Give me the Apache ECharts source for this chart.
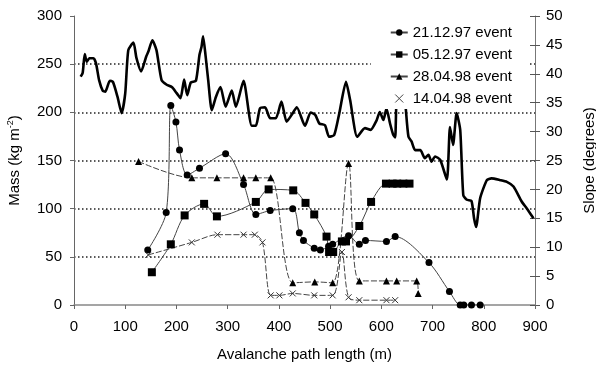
<!DOCTYPE html>
<html>
<head>
<meta charset="utf-8">
<script src="https://cdn.jsdelivr.net/npm/echarts@6/dist/echarts.min.js"></script>
<style>
  html, body { margin: 0; padding: 0; background: #fff; }
  #chart { width: 596px; height: 369px; }
</style>
</head>
<body>
<div id="chart"></div>
<script>
  // 数据：路径长度 (m) 与 质量 (kg m-2) / 坡度 (degrees)
  var event211297 = [[144,57],[180,96],[189,207],[199,190],[206,161],[221,135],[245,142],[296,157],[331,125],[355,94],[383,98],[427,100],[440,75],[448,67],[469,59],[481,57],[497,61],[505,63],[536,72],[557,63],[569,67],[610,66],[627,71],[693,44],[733,14],[754,0],[761,0],[776,0],[793,0]]
  var event051297 = [[152,34],[189,63],[216,93],[254,105],[279,92],[355,107],[380,120],[428,119],[452,106],[469,94],[493,71],[498,55],[506,55],[523,66],[531,66],[557,82],[580,107],[609,126],[622,126],[631,126],[643,126],[655,126]]
  var event280498 = [[126,149],[230,132],[279,132],[331,132],[355,132],[384,132],[427,23],[470,24],[505,23],[536,147],[557,25],[610,25],[630,25],[669,25],[672,12]]
  var event140498 = [[145,52],[230,65],[280,73],[331,73],[353,73],[368,65],[384,10],[401,10],[427,12],[469,10],[505,10],[523,55],[536,8],[557,5],[610,5],[627,5]]
  var slope = [[13,39.5],[17,40.2],[21,43.4],[25,42.1],[30,42.7],[38,42.7],[43,41.8],[49,38.9],[56,37.1],[61,36.9],[70,38.8],[76,38.6],[85,36],[93,33.2],[100,36.6],[106,44.1],[116,45.4],[122,42.7],[131,40.4],[141,43],[145,43.8],[153,45.8],[161,44.1],[171,38.9],[181,38.1],[191,37.7],[200,36.7],[208,35.8],[215,39],[221,36.3],[228,38.5],[238,38.8],[245,43.3],[249,44.7],[252,46.5],[257,43],[262,38.9],[269,33.7],[277,36],[286,37.7],[296,34.3],[308,37.1],[316,34.3],[331,38.8],[347,31],[355,31],[363,34],[373,34.2],[383,32.3],[394,32.3],[405,35.2],[415,31.7],[425,32.9],[435,34.2],[451,31],[462,33.3],[471,32.9],[479,31.4],[490,31.1],[498,29.1],[508,29.4],[518,33.2],[531,38.6],[539,35.5],[553,29.1],[568,30.6],[579,30.3],[591,32],[597,33.4],[604,32],[610,34],[617,31.4],[623,29.5],[627,29],[629,34],[634,40],[643,40],[648,33.7],[653,29.1],[659,28.3],[666,26.8],[676,26.8],[685,25.4],[692,26],[698,24.8],[705,25.7],[715,25.1],[728,21.7],[734,30.8],[740,27.7],[747,33.2],[754,30.3],[760,19],[767,18.2],[776,18],[781,15],[785,13.5],[793,18.5],[806,21.6],[815,21.9],[832,21.6],[845,21.3],[858,20.5],[874,17.9],[884,16.7],[897,15]]
  var seriesNames = ['21.12.97 event', '05.12.97 event', '28.04.98 event', '14.04.98 event']

  var font = 'Liberation Sans, Arial, sans-serif'
  var fs = 15
  var crossPath = 'path://M0,0L10,10M10,0L0,10'

  var chart = echarts.init(document.getElementById('chart'), null, {renderer: 'canvas'})
  chart.setOption({
    animation: false,
    textStyle: { fontFamily: font },
    grid: { left: 74, right: 61, top: 16, bottom: 64, containLabel: false, outerBoundsMode: 'none' },
    legend: {
      right: 66,
      top: 21,
      orient: 'vertical',
      align: 'left',
      backgroundColor: '#fff',
      padding: [4, 18, 3, 19],
      itemGap: 7,
      itemWidth: 17,
      itemHeight: 8,
      textStyle: { fontSize: fs, color: '#000', fontFamily: font },
      data: [
        { name: seriesNames[0], lineStyle: { type: 'solid' } },
        { name: seriesNames[1], lineStyle: { type: 'solid' } },
        { name: seriesNames[2], lineStyle: { type: 'solid' } },
        { name: seriesNames[3], icon: crossPath, itemStyle: { color: 'none', borderColor: '#444', borderWidth: 1 } }
      ]
    },
    xAxis: {
      type: 'value',
      min: 0, max: 900, interval: 100,
      name: 'Avalanche path length (m)',
      nameLocation: 'middle',
      nameGap: 42,
      nameTextStyle: { fontSize: fs, color: '#000' },
      axisLine: { lineStyle: { color: '#888', width: 1.5 } },
      axisTick: { show: true, length: 4, lineStyle: { color: '#666' } },
      axisLabel: { fontSize: fs, color: '#000', margin: 14 },
      splitLine: { show: false }
    },
    yAxis: [
      {
        type: 'value',
        min: 0, max: 300, interval: 50,
        position: 'left',
        name: 'Mass (kg m{sup|-2})',
        nameLocation: 'middle',
        nameGap: 50,
        nameTextStyle: {
          fontSize: fs, color: '#000',
          rich: { sup: { fontSize: 9, color: '#000', verticalAlign: 'top', lineHeight: 18 } }
        },
        axisLine: { show: true, lineStyle: { color: '#666' } },
        axisTick: { show: true, length: 4, lineStyle: { color: '#666' } },
        axisLabel: { fontSize: fs, color: '#000', margin: 12 },
        splitLine: {
          show: true,
          lineStyle: { type: [1.5, 2.5], width: 1.5, color: ['rgba(0,0,0,0)', '#222', '#222', '#222', '#222', '#222', 'rgba(0,0,0,0)'] }
        }
      },
      {
        type: 'value',
        min: 0, max: 50, interval: 5,
        position: 'right',
        name: 'Slope (degrees)',
        nameLocation: 'middle',
        nameGap: 47,
        nameTextStyle: { fontSize: fs, color: '#000' },
        axisLine: { show: true, lineStyle: { color: '#777' } },
        axisTick: { show: true, length: 5, lineStyle: { color: '#555' } },
        axisLabel: { fontSize: fs, color: '#000', margin: 11 },
        splitLine: { show: false }
      },
      {
        // 右轴刻度朝内的一半
        type: 'value',
        min: 0, max: 50, interval: 5,
        position: 'right',
        axisLine: { show: false },
        axisTick: { show: true, inside: true, length: 5, lineStyle: { color: '#555' } },
        axisLabel: { show: false },
        splitLine: { show: false }
      }
    ],
    series: [
      {
        name: 'Slope',
        type: 'line',
        yAxisIndex: 1,
        data: slope,
        symbol: 'none',
        smooth: 0.2,
        lineStyle: { color: '#000', width: 2.6 },
        z: 1
      },
      {
        name: seriesNames[0],
        type: 'line',
        data: event211297,
        smooth: 0.3,
        symbol: 'circle',
        symbolSize: 7,
        itemStyle: { color: '#000' },
        lineStyle: { color: '#444', width: 1 }
      },
      {
        name: seriesNames[1],
        type: 'line',
        data: event051297,
        smooth: 0.3,
        symbol: 'rect',
        symbolSize: 8,
        itemStyle: { color: '#000' },
        lineStyle: { color: '#444', width: 1 }
      },
      {
        name: seriesNames[2],
        type: 'line',
        data: event280498,
        smooth: 0.3,
        symbol: 'triangle',
        symbolSize: 7,
        itemStyle: { color: '#000' },
        lineStyle: { color: '#444', width: 1, type: [6, 2] }
      },
      {
        name: seriesNames[3],
        type: 'line',
        data: event140498,
        smooth: 0.3,
        symbol: crossPath,
        symbolSize: 6,
        itemStyle: { color: 'none', borderColor: '#333', borderWidth: 1 },
        lineStyle: { color: '#444', width: 1, type: [6, 2] }
      }
    ]
  })
</script>
</body>
</html>
